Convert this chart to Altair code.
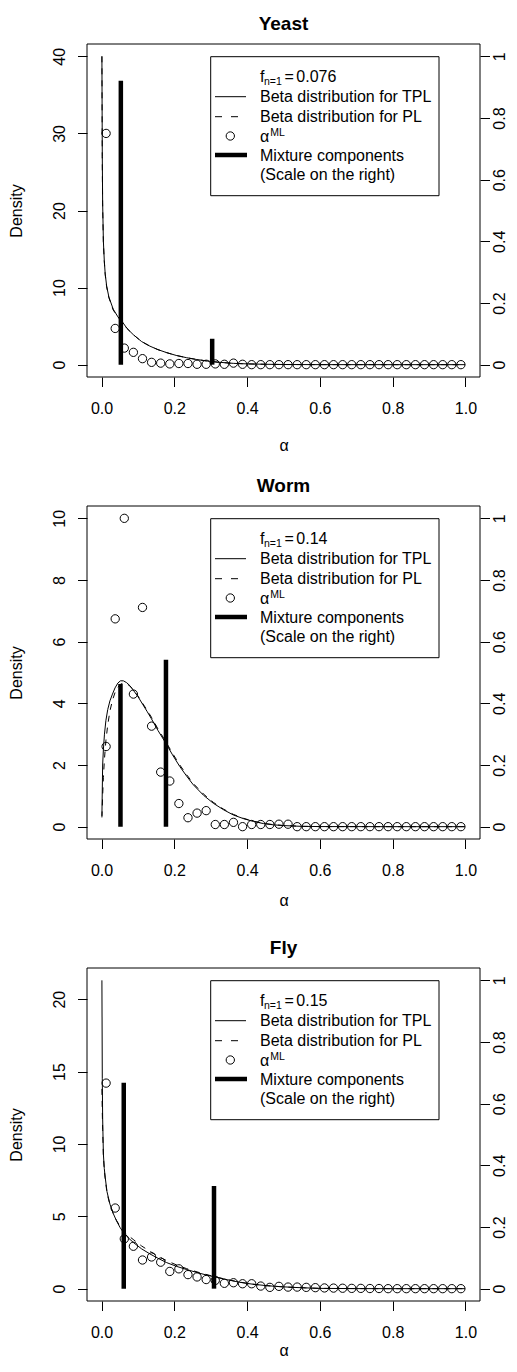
import altair as alt
import pandas as pd

FONT = "Liberation Sans"

# ---------------- data ----------------
ALPHA_BINS = [0.0125, 0.0375, 0.0625, 0.0875, 0.1125, 0.1375, 0.1625, 0.1875, 0.2125, 0.2375,
              0.2625, 0.2875, 0.3125, 0.3375, 0.3625, 0.3875, 0.4125, 0.4375, 0.4625, 0.4875,
              0.5125, 0.5375, 0.5625, 0.5875, 0.6125, 0.6375, 0.6625, 0.6875, 0.7125, 0.7375,
              0.7625, 0.7875, 0.8125, 0.8375, 0.8625, 0.8875, 0.9125, 0.9375, 0.9625, 0.9875]

# Yeast
YEAST_PTS = [30.0, 4.7, 2.15, 1.6, 0.78, 0.3, 0.2, 0.1, 0.15, 0.15,
             0.05, 0.05, 0.1, 0.05, 0.2, 0.05, 0.0, 0.0, 0.0, 0.0,
             0.0, 0.0, 0.0, 0.0, 0.0, 0.0, 0.0, 0.0, 0.0, 0.0,
             0.0, 0.0, 0.0, 0.0, 0.0, 0.0, 0.0, 0.0, 0.0, 0.0]
YEAST_CURVE_X = [0.001, 0.002, 0.003, 0.005, 0.0075, 0.01, 0.014, 0.02, 0.032, 0.045, 0.055,
                 0.07, 0.087, 0.11, 0.133, 0.155, 0.179, 0.205, 0.234, 0.26, 0.289, 0.32,
                 0.362, 0.4, 0.45, 0.5, 0.6, 0.8, 0.999]
YEAST_TPL = [40.0, 27.0, 21.0, 16.0, 13.5, 11.8, 10.2, 8.8, 7.2, 6.2, 5.7,
             4.7, 3.9, 3.0, 2.4, 1.95, 1.56, 1.2, 0.9, 0.68, 0.48, 0.32,
             0.17, 0.1, 0.05, 0.02, 0.005, 0.0, 0.0]
YEAST_PL = [40.0, 26.0, 20.5, 15.8, 13.4, 11.7, 10.1, 8.7, 7.1, 6.15, 5.65,
            4.7, 3.9, 3.0, 2.4, 1.95, 1.56, 1.2, 0.9, 0.68, 0.48, 0.32,
            0.17, 0.1, 0.05, 0.02, 0.005, 0.0, 0.0]
YEAST_MIX_X = [0.053, 0.304]
YEAST_MIX_W = [0.921, 0.084]

# Worm
WORM_PTS = [2.6, 6.74, 10.0, 4.3, 7.11, 3.26, 1.77, 1.48, 0.75, 0.29,
            0.44, 0.52, 0.07, 0.07, 0.14, 0.0, 0.07, 0.07, 0.07, 0.08,
            0.08, 0.0, 0.0, 0.0, 0.0, 0.0, 0.0, 0.0, 0.0, 0.0,
            0.0, 0.0, 0.0, 0.0, 0.0, 0.0, 0.0, 0.0, 0.0, 0.0]
WORM_CURVE_X = [0.001, 0.003, 0.005, 0.008, 0.012, 0.017, 0.023, 0.03, 0.037, 0.045, 0.052,
                0.06, 0.069, 0.078, 0.087, 0.1, 0.114, 0.125, 0.137, 0.155, 0.177, 0.195,
                0.215, 0.235, 0.252, 0.28, 0.307, 0.335, 0.362, 0.39, 0.417, 0.445, 0.472,
                0.5, 0.55, 0.6, 0.8, 0.999]
WORM_TPL = [0.35, 2.0, 2.5, 3.0, 3.45, 3.8, 4.08, 4.3, 4.5, 4.66, 4.73,
            4.73, 4.67, 4.57, 4.43, 4.22, 3.95, 3.74, 3.5, 3.12, 2.7, 2.33,
            1.95, 1.62, 1.36, 1.02, 0.76, 0.55, 0.38, 0.26, 0.17, 0.1, 0.06,
            0.035, 0.01, 0.003, 0.0, 0.0]
WORM_PL = [0.3, 1.0, 1.6, 2.2, 2.8, 3.3, 3.75, 4.1, 4.35, 4.52, 4.62,
           4.66, 4.64, 4.56, 4.44, 4.24, 3.98, 3.78, 3.55, 3.17, 2.75, 2.38,
           2.0, 1.67, 1.4, 1.06, 0.79, 0.57, 0.4, 0.27, 0.18, 0.11, 0.065,
           0.038, 0.011, 0.003, 0.0, 0.0]
WORM_MIX_X = [0.052, 0.177]
WORM_MIX_W = [0.463, 0.541]

# Fly
FLY_PTS = [14.2, 5.57, 3.44, 2.93, 1.98, 2.19, 1.83, 1.19, 1.37, 0.97,
           0.81, 0.63, 0.57, 0.37, 0.41, 0.34, 0.34, 0.18, 0.09, 0.16,
           0.11, 0.11, 0.09, 0.07, 0.05, 0.04, 0.03, 0.02, 0.02, 0.01,
           0.01, 0.0, 0.0, 0.0, 0.0, 0.0, 0.0, 0.0, 0.0, 0.0]
FLY_CURVE_X = [0.001, 0.002, 0.003, 0.005, 0.0075, 0.01, 0.015, 0.023, 0.032, 0.041, 0.051,
               0.061, 0.074, 0.087, 0.11, 0.133, 0.155, 0.179, 0.205, 0.234, 0.27, 0.307,
               0.345, 0.38, 0.415, 0.453, 0.49, 0.526, 0.56, 0.6, 0.7, 0.8, 0.999]
FLY_TPL = [21.3, 14.5, 11.8, 9.3, 8.3, 7.7, 6.7, 5.84, 5.2, 4.69, 4.22,
           3.85, 3.5, 3.2, 2.75, 2.4, 2.1, 1.8, 1.55, 1.32, 1.06, 0.83,
           0.62, 0.44, 0.31, 0.21, 0.14, 0.09, 0.055, 0.02, 0.005, 0.0, 0.0]
FLY_PL = [13.8, 12.2, 11.0, 9.2, 8.2, 7.6, 6.6, 5.8, 5.2, 4.72, 4.3,
          3.95, 3.65, 3.4, 2.95, 2.58, 2.25, 1.93, 1.65, 1.38, 1.1, 0.85,
          0.63, 0.45, 0.31, 0.21, 0.14, 0.09, 0.055, 0.02, 0.005, 0.0, 0.0]
FLY_MIX_X = [0.061, 0.309]
FLY_MIX_W = [0.668, 0.333]

X_TICKS = [0.0, 0.2, 0.4, 0.6, 0.8, 1.0]
RIGHT_TICKS = [0.0, 0.2, 0.4, 0.6, 0.8, 1.0]

# ---------------- layout ----------------
W, H = 393, 333
SPACING = 129
FS = 16
ONE = alt.Data(values=[{"k": 1}])


def txt(s, x, y, size=FS):
    return alt.Chart(ONE).mark_text(
        align="left", baseline="alphabetic", font=FONT, fontSize=size, color="black"
    ).encode(x=alt.value(x), y=alt.value(y), text=alt.value(s))


def legend_layers(fval):
    frame = alt.Chart(ONE).mark_rect(fill=None, stroke="black", strokeWidth=1).encode(
        x=alt.value(0), x2=alt.value(W), y=alt.value(0), y2=alt.value(H))
    box = alt.Chart(ONE).mark_rect(fill="white", stroke="black", strokeWidth=1).encode(
        x=alt.value(123.7), x2=alt.value(352), y=alt.value(12.7), y2=alt.value(151.7))
    solid = alt.Chart(ONE).mark_rule(color="black", strokeWidth=1).encode(
        x=alt.value(128), x2=alt.value(159), y=alt.value(52.7))
    dashed = alt.Chart(ONE).mark_rule(color="black", strokeWidth=1, strokeDash=[7, 9]).encode(
        x=alt.value(128), x2=alt.value(159), y=alt.value(72.7))
    circ = alt.Chart(ONE).mark_point(shape="circle", filled=False, size=69, strokeWidth=1,
                                     color="black", opacity=1).encode(
        x=alt.value(143.3), y=alt.value(92))
    thick = alt.Chart(ONE).mark_rule(color="black", strokeWidth=4.5, strokeCap="butt").encode(
        x=alt.value(128), x2=alt.value(160), y=alt.value(111))
    return [
        frame, box, solid, dashed, circ, thick,
        txt("f", 173, 37.8),
        txt("n=1", 177.0, 40.8, 10.5),
        txt("=", 197.5, 37.8),
        txt(fval, 209.3, 37.8),
        txt("Beta distribution for TPL", 173, 58.2),
        txt("Beta distribution for PL", 173, 78.2),
        txt("α", 173, 98.3),
        txt("ML", 183.3, 91.6, 10.5),
        txt("Mixture components", 173, 116.8),
        txt("(Scale on the right)", 173, 135.8),
    ]


def panel(title, pts, cx, tpl, pl, mixx, mixw, ymax, yticks, fval, xtitle_y):
    xs = alt.Scale(domain=[-0.04, 1.04], nice=False, zero=False)
    ys = alt.Scale(domain=[-0.04 * ymax, 1.04 * ymax], nice=False, zero=False)
    rs = alt.Scale(domain=[-0.04, 1.04], nice=False, zero=False)
    common = dict(grid=False, domain=False, ticks=True, tickSize=9.5, tickColor="black",
                  tickWidth=1, labelFont=FONT, labelFontSize=FS, labelColor="black",
                  labelFlush=False, labelOverlap=False, titleFont=FONT, titleFontSize=FS,
                  titleFontWeight="normal", titleColor="black")
    xaxis = alt.Axis(values=X_TICKS, format=".1f", title="α", labelPadding=26.5,
                     labelBaseline="alphabetic", titleY=xtitle_y, titleBaseline="alphabetic",
                     **common)
    yaxis = alt.Axis(values=yticks, format="~f", title="Density", labelAngle=270,
                     labelAlign="center", labelBaseline="alphabetic", labelPadding=13.5,
                     titleAngle=270, titleX=-65.4, titleY=H / 2, titleAlign="center",
                     titleBaseline="alphabetic", **common)
    raxis = alt.Axis(orient="right", values=RIGHT_TICKS, format="~f", title=None,
                     labelAngle=270, labelAlign="center", labelBaseline="alphabetic",
                     labelPadding=15, **common)
    X = alt.X("alpha:Q", scale=xs, axis=xaxis)
    Y = alt.Y("density:Q", scale=ys, axis=yaxis)

    tpl_l = alt.Chart(pd.DataFrame({"alpha": cx, "density": tpl})).mark_line(
        color="black", strokeWidth=1, clip=True).encode(x=X, y=Y)
    pl_l = alt.Chart(pd.DataFrame({"alpha": cx, "density": pl})).mark_line(
        color="black", strokeWidth=1, strokeDash=[6, 6], clip=True).encode(x=X, y=Y)
    pts_l = alt.Chart(pd.DataFrame({"alpha": ALPHA_BINS, "density": pts})).mark_point(
        shape="circle", filled=False, size=69, strokeWidth=1, color="black", opacity=1,
        clip=True).encode(x=X, y=Y)
    mix_df = pd.DataFrame({"alpha": mixx, "weight": mixw, "base": [0.0] * len(mixx)})
    mix_l = alt.Chart(mix_df).mark_rule(color="black", strokeWidth=4.5, strokeCap="butt").encode(
        x=X, y=alt.Y("weight:Q", scale=rs, axis=raxis), y2=alt.Y2("base:Q"))

    left_group = alt.layer(tpl_l, pl_l, pts_l, *legend_layers(fval))
    return alt.layer(left_group, mix_l).resolve_scale(y="independent").properties(
        width=W, height=H,
        title=alt.TitleParams(text=title, font=FONT, fontSize=19, fontWeight="bold",
                              color="black", anchor="middle", frame="group",
                              baseline="alphabetic", offset=12, dy=17))


p1 = panel("Yeast", YEAST_PTS, YEAST_CURVE_X, YEAST_TPL, YEAST_PL, YEAST_MIX_X, YEAST_MIX_W,
           40.0, [0, 10, 20, 30, 40], "0.076", 73)
p2 = panel("Worm", WORM_PTS, WORM_CURVE_X, WORM_TPL, WORM_PL, WORM_MIX_X, WORM_MIX_W,
           10.0, [0, 2, 4, 6, 8, 10], "0.14", 66)
p3 = panel("Fly", FLY_PTS, FLY_CURVE_X, FLY_TPL, FLY_PL, FLY_MIX_X, FLY_MIX_W,
           21.3, [0, 5, 10, 15, 20], "0.15", 54)

SVG_W, SVG_H = 501, 1353
PAD_L, PAD_T = 79, 36
chart = alt.vconcat(p1, p2, p3, spacing=SPACING, bounds="flush").properties(
    autosize=alt.AutoSizeParams(type="none"),
    padding={"left": PAD_L, "top": PAD_T, "right": SVG_W - PAD_L - W,
             "bottom": SVG_H - PAD_T},
    background="white",
).configure_view(strokeWidth=0)

chart.save("out.html", embed_options={"renderer": "svg", "actions": False})
